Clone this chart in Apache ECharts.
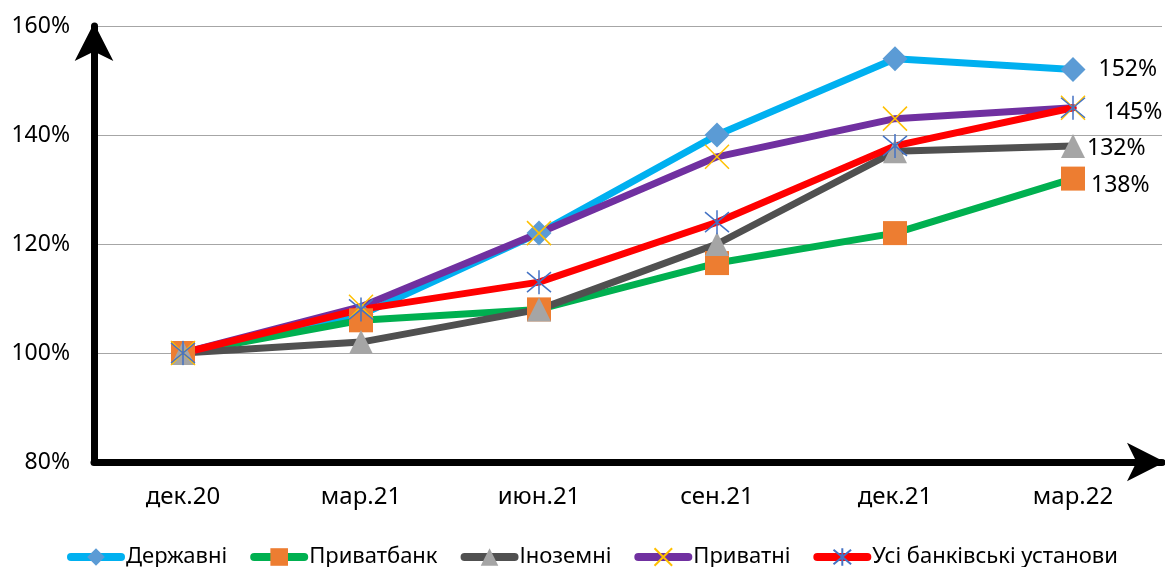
<!DOCTYPE html>
<html>
<head>
<meta charset="utf-8">
<script src="https://cdn.jsdelivr.net/npm/echarts@6/dist/echarts.min.js"></script>
<style>
  html, body { margin: 0; padding: 0; background: #fff; }
  #chart { width: 1165px; height: 567px; }
</style>
</head>
<body>
<div id="chart"></div>
<script>
// Quarter labels
const categories = ['дек.20', 'мар.21', 'июн.21', 'сен.21', 'дек.21', 'мар.22'];

// Index values, % of Dec 2020
const derzhavni = [100, 107, 122, 140, 154, 152];
const pryvatbank = [100, 106, 108, 116.5, 122, 132];
const inozemni = [100, 102, 108, 120, 137, 138];
const pryvatni = [100, 108.5, 122, 136, 143, 145];
const usiBanky = [100, 108, 113, 124, 138, 145];

// Series names
const seriesNames = ['Державні', 'Приватбанк', 'Іноземні', 'Приватні', 'Усі банківські установи'];

// Value axis ticks
const yMin = 80, yMax = 160, yStep = 20;

const FONT = 'Noto Sans';
const last = categories.length - 1;

// Marker paths: a plain cross and an asterisk
const crossPath = 'path://M0,0L20,20M20,0L0,20';
const starPath = 'path://M0,0L20,20M20,0L0,20M10,-2L10,22';

// Value label shown on the final point only
function endLabel(distance, offsetY, show) {
  return {
    show: show,
    position: 'right',
    distance: distance,
    offset: [0, offsetY],
    color: '#000',
    fontFamily: FONT,
    fontSize: 23,
    formatter: p => (p.dataIndex === last ? p.value + '%' : '')
  };
}

function lineSeries(name, values, lineColor, markerColor, symbol, size, label, stroked) {
  return {
    name: name,
    type: 'line',
    data: values,
    symbol: symbol,
    symbolSize: size,
    showAllSymbol: true,
    lineStyle: { color: lineColor, width: 7, join: 'round', cap: 'round' },
    itemStyle: stroked
      ? { color: markerColor, borderColor: markerColor, borderWidth: 1.5 }
      : { color: markerColor, borderWidth: 0 },
    label: label,
    emphasis: { disabled: true },
    animation: false
  };
}

// Thick black axis with an arrowhead at its far end
function arrowAxisLine() {
  return {
    show: true,
    lineStyle: { color: '#000', width: 7 },
    symbol: ['none', 'arrow'],
    symbolSize: [29, 38],
    symbolOffset: [0, 3]
  };
}

const chart = echarts.init(document.getElementById('chart'), null, { renderer: 'canvas' });

chart.setOption({
  backgroundColor: '#fff',
  animation: false,
  textStyle: { fontFamily: FONT },
  grid: { left: 94, right: 3, top: 26, bottom: 105, containLabel: false },
  legend: {
    left: 62,
    top: 541,
    itemWidth: 50,
    itemHeight: 22,
    itemGap: 23,
    selectedMode: false,
    textStyle: { color: '#000', fontSize: 22, fontFamily: FONT },
    lineStyle: { width: 8, cap: 'round' },
    data: seriesNames
  },
  xAxis: {
    type: 'category',
    data: categories,
    boundaryGap: true,
    axisTick: { show: false },
    axisLine: arrowAxisLine(),
    axisLabel: { color: '#000', fontSize: 24, fontFamily: FONT, margin: 23 },
    splitLine: { show: false }
  },
  yAxis: {
    type: 'value',
    min: yMin,
    max: yMax,
    interval: yStep,
    axisTick: { show: false },
    axisLine: arrowAxisLine(),
    axisLabel: { color: '#000', fontSize: 23, fontFamily: FONT, margin: 24, formatter: '{value}%' },
    splitLine: { show: true, lineStyle: { color: '#A6A6A6', width: 1 } }
  },
  series: [
    lineSeries(seriesNames[0], derzhavni, '#00B0F0', '#5B9BD5', 'diamond', 25, endLabel(13, 0, true), false),
    lineSeries(seriesNames[1], pryvatbank, '#00B050', '#ED7D31', 'rect', 24, endLabel(2, -30, true), false),
    lineSeries(seriesNames[2], inozemni, '#505050', '#A5A5A5', 'triangle', 24, endLabel(6, 40, true), false),
    lineSeries(seriesNames[3], pryvatni, '#7030A0', '#FFC000', crossPath, 24, endLabel(0, 0, false), true),
    lineSeries(seriesNames[4], usiBanky, '#FF0000', '#4472C4', starPath, 24, endLabel(18, 5, true), true)
  ]
});
</script>
</body>
</html>
